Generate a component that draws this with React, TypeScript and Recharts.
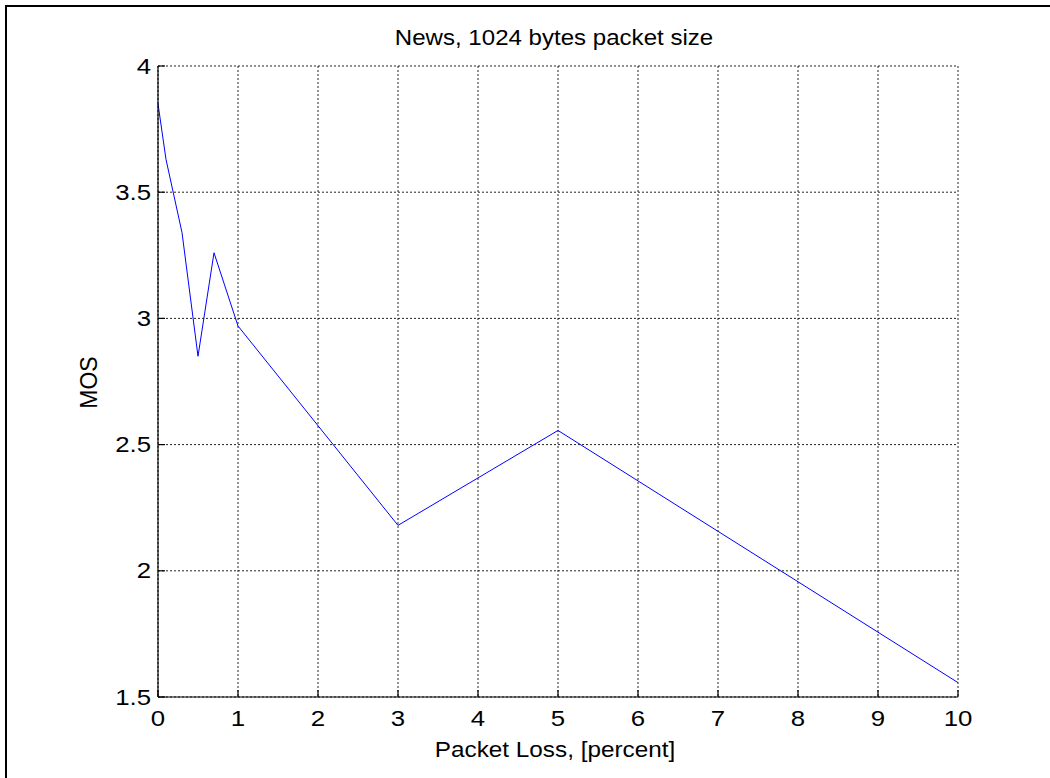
import React from "react";
import { LineChart, Line, XAxis, YAxis, CartesianGrid } from "recharts";

// Packet loss (percent) and mean opinion score for the news clip
const lossPercent = [0, 0.1, 0.3, 0.5, 0.7, 1, 3, 5, 10];
const mosValues = [3.85, 3.63, 3.34, 2.85, 3.26, 2.97, 2.18, 2.556, 1.557];

const xTicks = [0, 1, 2, 3, 4, 5, 6, 7, 8, 9, 10];
const yTicks = [1.5, 2, 2.5, 3, 3.5, 4];

const titleText = "News, 1024 bytes packet size";
const xLabelText = "Packet Loss, [percent]";
const yLabelText = "MOS";

const data = lossPercent.map((x, i) => ({ loss: x, mos: mosValues[i] }));

const FONT = "'Liberation Sans', Arial, Helvetica, sans-serif";

const XTick = (props: any) => {
  const { x, y, payload } = props;
  return (
    <text
      transform={`translate(${x},${y + 29}) scale(1.2,1)`}
      textAnchor="middle"
      fontFamily={FONT}
      fontSize={21.5}
      fill="#000"
    >
      {payload.value}
    </text>
  );
};

const YTick = (props: any) => {
  const { x, y, payload } = props;
  return (
    <text
      transform={`translate(${x},${y + 7.5}) scale(1.2,1)`}
      textAnchor="end"
      fontFamily={FONT}
      fontSize={21.5}
      fill="#000"
    >
      {payload.value}
    </text>
  );
};

const NoTick = () => <g />;

const XLabel = (props: any) => {
  const { x, y, width } = props.viewBox;
  return (
    <text
      transform={`translate(${x + width / 2 - 3},${y + 60}) scale(1.13,1)`}
      textAnchor="middle"
      fontFamily={FONT}
      fontSize={21.5}
      fill="#000"
    >
      {xLabelText}
    </text>
  );
};

const YLabel = (props: any) => {
  const { x, y, height } = props.viewBox;
  return (
    <text
      transform={`translate(${x - 1},${y + height / 2 + 1}) rotate(-90)`}
      textAnchor="middle"
      fontFamily={FONT}
      fontSize={23}
      fill="#000"
    >
      {yLabelText}
    </text>
  );
};

export default function App() {
  return (
    <div
      style={{
        position: "absolute",
        left: 0,
        top: 0,
        width: 1050,
        height: 778,
        overflow: "hidden",
        background: "#fff",
      }}
    >
      <div
        style={{
          position: "absolute",
          left: 5,
          top: 5,
          width: 1200,
          height: 900,
          borderLeft: "2px solid #000",
          borderTop: "2px solid #000",
        }}
      />
      <svg
        width={1050}
        height={60}
        style={{ position: "absolute", left: 0, top: 0 }}
      >
        <text
          transform="translate(554,44.5) scale(1.12,1)"
          textAnchor="middle"
          fontFamily={FONT}
          fontSize={21.5}
          fill="#000"
        >
          {titleText}
        </text>
      </svg>
      <div style={{ position: "absolute", left: 0, top: 0 }}>
        <LineChart
          width={1050}
          height={778}
          data={data}
          margin={{ top: 66, right: 92, bottom: 41, left: 98 }}
        >
          <CartesianGrid
            xAxisId="bottom"
            yAxisId="left"
            stroke="#222"
            strokeDasharray="2 2"
            strokeWidth={1}
          />
          <XAxis
            xAxisId="bottom"
            dataKey="loss"
            type="number"
            domain={[0, 10]}
            ticks={xTicks}
            interval={0}
            height={40}
            axisLine={{ stroke: "#000", strokeWidth: 1.2 }}
            tickLine={{ stroke: "#000", strokeWidth: 1.2 }}
            tickSize={-7}
            tickMargin={7}
            tick={<XTick />}
            label={<XLabel />}
          />
          <XAxis
            xAxisId="top"
            orientation="top"
            dataKey="loss"
            type="number"
            domain={[0, 10]}
            ticks={xTicks}
            interval={0}
            height={0}
            axisLine={{ stroke: "#000", strokeWidth: 1.2 }}
            tickLine={{ stroke: "#000", strokeWidth: 1.2 }}
            tickSize={-7}
            tick={<NoTick />}
          />
          <YAxis
            yAxisId="left"
            type="number"
            domain={[1.5, 4]}
            ticks={yTicks}
            interval={0}
            width={60}
            axisLine={{ stroke: "#000", strokeWidth: 1.2 }}
            tickLine={{ stroke: "#000", strokeWidth: 1.2 }}
            tickSize={-7}
            tickMargin={14}
            tick={<YTick />}
            label={<YLabel />}
          />
          <YAxis
            yAxisId="right"
            orientation="right"
            type="number"
            domain={[1.5, 4]}
            ticks={yTicks}
            interval={0}
            width={0}
            axisLine={{ stroke: "#000", strokeWidth: 1.2 }}
            tickLine={{ stroke: "#000", strokeWidth: 1.2 }}
            tickSize={-7}
            tick={<NoTick />}
          />
          <Line
            xAxisId="bottom"
            yAxisId="left"
            type="linear"
            dataKey="mos"
            stroke="#0000ff"
            strokeWidth={1}
            dot={false}
            activeDot={false}
            isAnimationActive={false}
          />
        </LineChart>
      </div>
    </div>
  );
}
